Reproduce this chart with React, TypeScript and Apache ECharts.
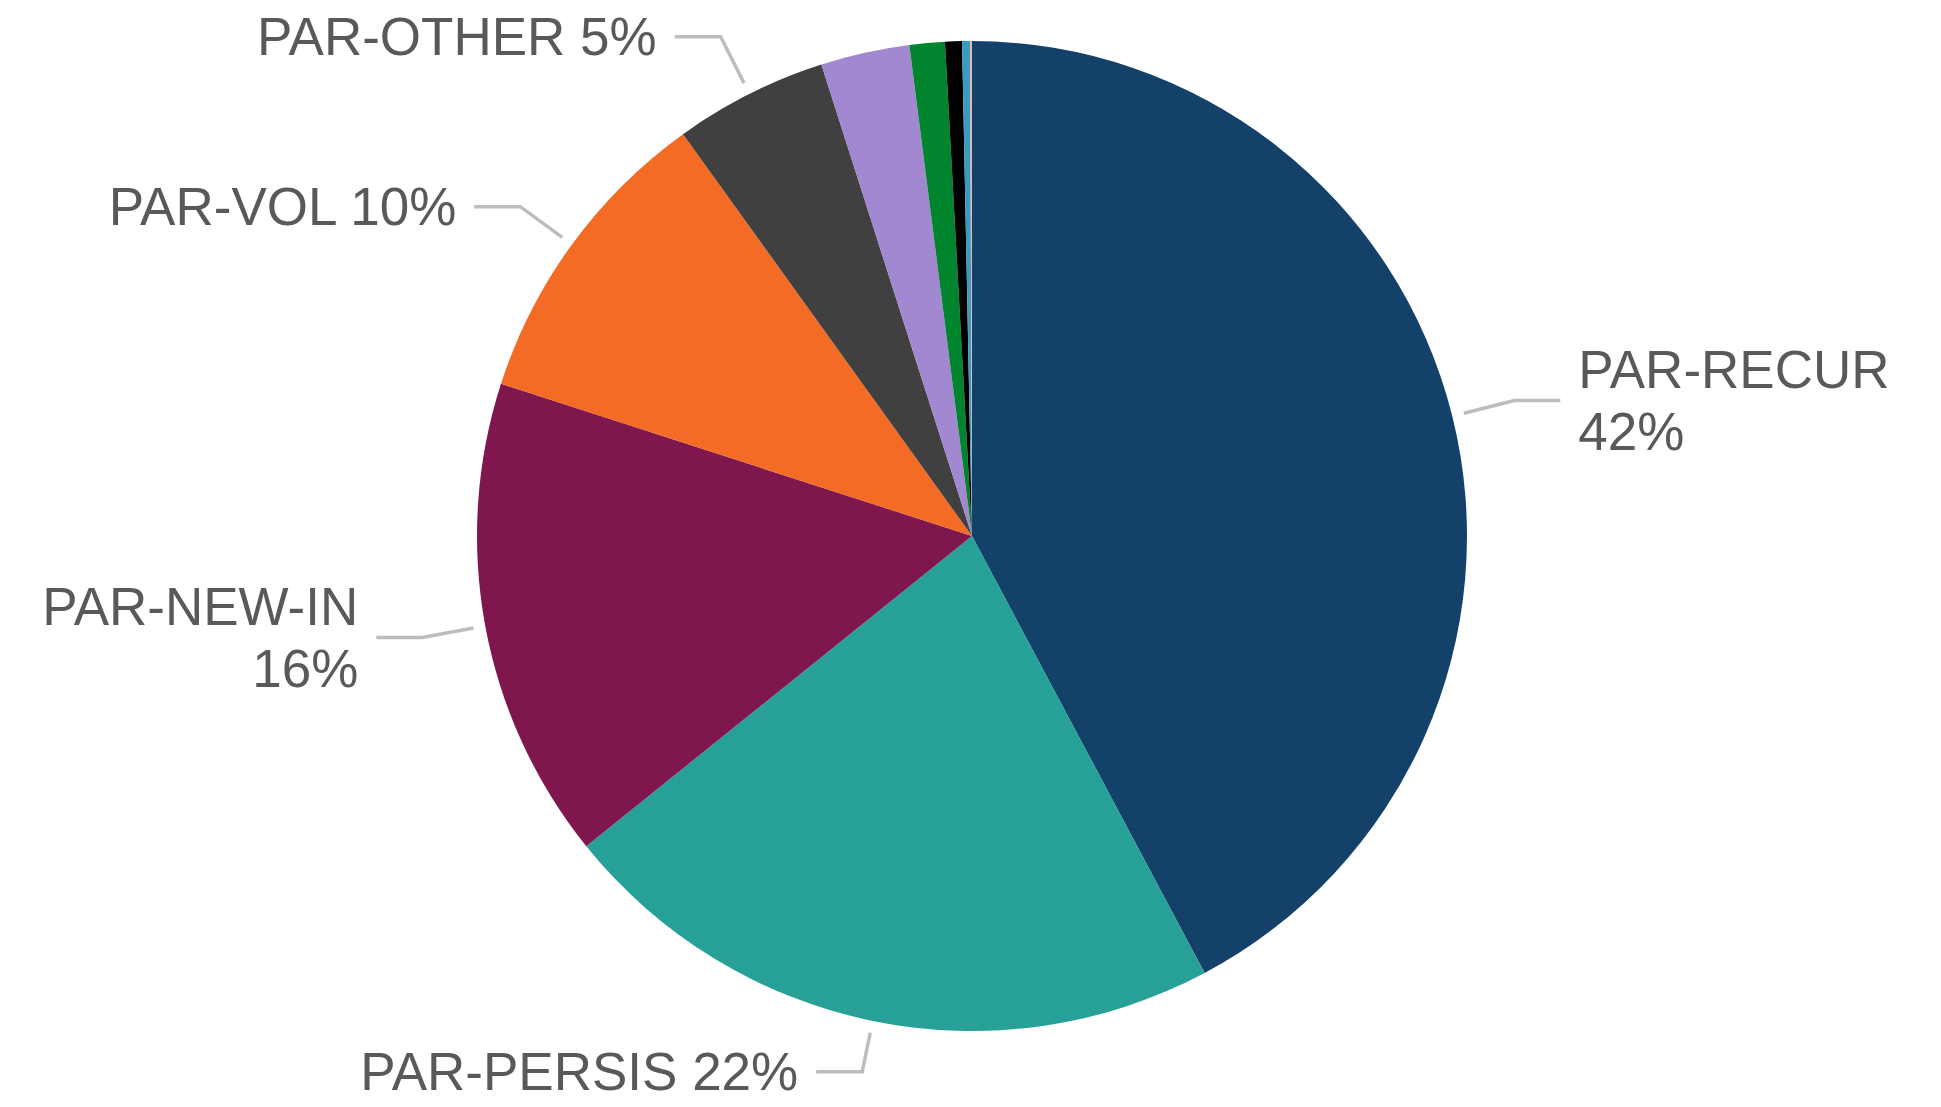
import React, { useEffect, useRef } from "react";
import * as echarts from "echarts";

const categories = [
  "PAR-RECUR",
  "PAR-PERSIS",
  "PAR-NEW-IN",
  "PAR-VOL",
  "PAR-OTHER",
  "PAR-MINOR-1",
  "PAR-MINOR-2",
  "PAR-MINOR-3",
  "PAR-MINOR-4",
  "PAR-MINOR-5",
];
const values = [42.2, 22.0, 15.75, 10.1, 5.0, 2.9, 1.15, 0.55, 0.26, 0.06];
const colors = [
  "#134169",
  "#27A197",
  "#7F164D",
  "#F36B24",
  "#404040",
  "#A287D1",
  "#00852E",
  "#000000",
  "#3A9BBF",
  "#E8B4B0",
];
const labelled = [true, true, true, true, true, false, false, false, false, false];
const twoLine = [true, false, true, false, false, false, false, false, false, false];

export default function App() {
  const ref = useRef<HTMLDivElement>(null);
  useEffect(() => {
    document.body.style.margin = "0";
    if (!ref.current) return;
    const chart = echarts.init(ref.current, null, { renderer: "svg" });
    const data = categories.map((name, i) => ({
      name,
      value: values[i],
      itemStyle: { color: colors[i] },
      label: { show: labelled[i], lineHeight: twoLine[i] ? 62 : 50 },
      labelLine: { show: labelled[i], length: i === 1 ? 52 : 64 },
    }));
    const gap = 12;
    chart.setOption({
      animation: false,
      backgroundColor: "#ffffff",
      series: [
        {
          type: "pie",
          center: [972, 536],
          radius: 495,
          startAngle: 90,
          clockwise: true,
          avoidLabelOverlap: false,
          data,
          itemStyle: { borderWidth: 0 },
          label: {
            position: "outside",
            fontFamily: "Liberation Sans, Arial, sans-serif",
            fontSize: 53,
            color: "#595959",
            distanceToLabelLine: 18,
            formatter: (p: any) => {
              const idx = p.dataIndex;
              const pct = Math.round(p.percent) + "%";
              return twoLine[idx] ? p.name + "\n" + pct : p.name + " " + pct;
            },
          },
          labelLine: {
            length: 64,
            length2: 46,
            lineStyle: { color: "#BDBDBD", width: 3.5 },
          },
          labelLayout: (params: any) => {
            const pts = params.labelLinePoints;
            if (!pts || pts.length < 2) return {};
            const a = pts[0];
            const b = pts[1];
            const dx = b[0] - a[0];
            const dy = b[1] - a[1];
            const len = Math.sqrt(dx * dx + dy * dy) || 1;
            const start = [a[0] + (dx / len) * gap, a[1] + (dy / len) * gap];
            return { labelLinePoints: [start, ...pts.slice(1)] };
          },
          emphasis: { disabled: true },
        },
      ],
    });
    return () => chart.dispose();
  }, []);
  return <div ref={ref} style={{ width: 1941, height: 1107 }} />;
}
